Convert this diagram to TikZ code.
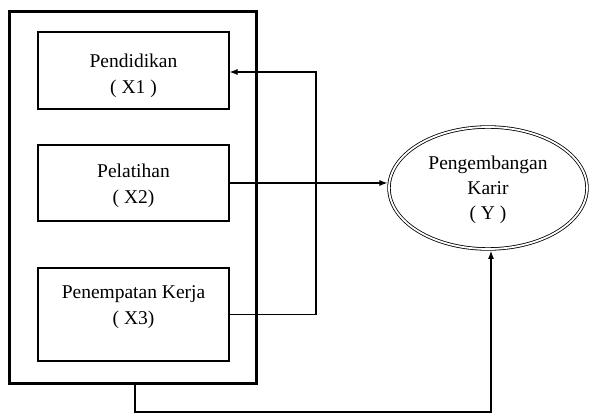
\documentclass[tikz,border=0pt]{standalone}
\usepackage{fontspec}
\setmainfont{Liberation Serif}
\usetikzlibrary{arrows.meta,shapes.geometric}

\tikzset{
  inbox/.style={draw=black, line width=1.1pt, rectangle, minimum width=191pt, inner sep=0pt},
  frame/.style={draw=black, line width=3pt, rectangle, minimum width=247pt, minimum height=371pt, inner sep=0pt},
  label/.style={align=center, inner sep=0pt, font=\fontsize{19.5}{26}\selectfont},
  goalnode/.style={ellipse, draw=black, line width=0.8pt, double=white, double distance=1.8pt,
                   minimum width=198pt, minimum height=122pt, inner sep=0pt},
  link/.style={draw=black, line width=1.1pt},
  arr/.style={link, -{Latex[length=8pt,width=6pt]}}
}

\begin{document}
\begin{tikzpicture}[x=1pt, y=1pt]
  \fill[white] (0,0) rectangle (589,418);
  \useasboundingbox (0,0) rectangle (589,418);

  % outer frame around the three variables
  \node[frame] (outer) at (132.75,220.5) {};

  % independent variables
  \node[inbox, minimum height=77pt] (b1) at (133.5,347.5) {};
  \node[inbox, minimum height=76pt] (b2) at (133.5,235) {};
  \node[inbox, minimum height=93pt] (b3) at (133.5,103.5) {};
  \node[label] (t1) at (133.5,342) {Pendidikan\\( X1 )};
  \node[label] (t2) at (133.5,232) {Pelatihan\\( X2)};
  \node[label] (t3) at (133.5,111) {Penempatan Kerja\\( X3)};

  % dependent variable
  \node[goalnode] (goal) at (488,230) {};
  \node[label, font=\fontsize{19.5}{25}\selectfont] (tg) at (488,228) {Pengembangan\\Karir\\( Y )};

  % connectors
  \coordinate (jn) at (316,346);
  \coordinate (bl) at (135,6);
  \draw[arr] (b3.east) -| (jn) -- (b1.east |- jn);
  \draw[arr, shorten >=1.2pt] (b2.east) -- (b2.east -| goal.west);
  \draw[arr, shorten >=1.5pt] (outer.south -| bl) -- (bl) -| ([xshift=3pt]goal.south);
\end{tikzpicture}
\end{document}
